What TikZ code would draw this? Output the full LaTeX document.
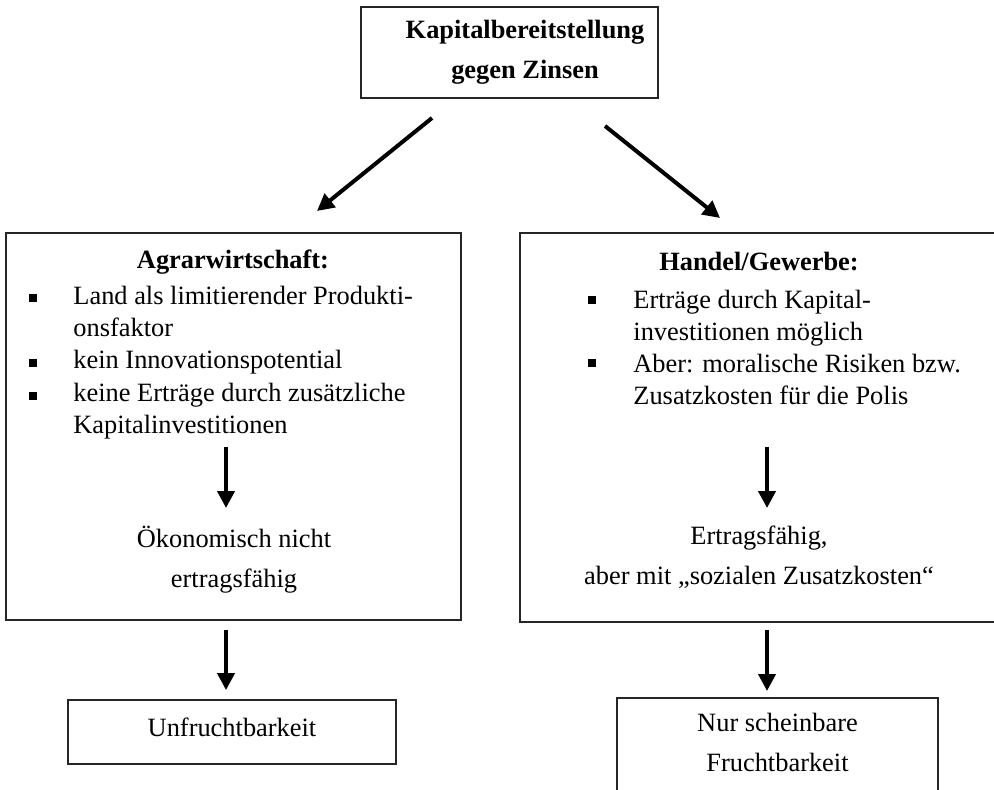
\documentclass[tikz,border=0pt]{standalone}
\usepackage{fontspec}
\setmainfont{Liberation Serif}
\usetikzlibrary{arrows.meta}
\tikzset{
  box/.style={draw=black!85, line width=0.9pt, inner sep=0pt},
  txt/.style={align=center, inner sep=0pt, font=\fontsize{13.2}{20}\selectfont},
  ttl/.style={inner sep=0pt, font=\fontsize{13.2}{20}\selectfont\bfseries},
  lst/.style={align=left, anchor=west, inner sep=0pt, font=\fontsize{13.2}{16.1}\selectfont},
  blt/.style={fill=black, inner sep=0pt, minimum size=3.8pt},
  arr/.style={line width=2pt, -{Triangle[length=8.5pt,width=8.5pt]}}
}
% box node: name, x, y, width, height (in px)
\newcommand{\boxnode}[5]{\node[box, minimum width=#4*0.5pt, minimum height=#5*0.5pt] (#1) at (#2,#3) {};}

\begin{document}
\begin{tikzpicture}[x=0.5pt, y=-0.5pt]
        \path[use as bounding box, clip] (0,0) rectangle (994,790);
        % top
        \boxnode{kap}{509.5}{52.5}{297}{91}
        \node[txt, font=\fontsize{13.2}{20}\selectfont\bfseries] (kapt) at (525,52) {Kapitalbereitstellung\\gegen Zinsen};
        % left column
        \boxnode{agrar}{233.5}{426.5}{455}{387}
        \node[ttl] (agrart) at (233,262) {Agrarwirtschaft:};
        \node[lst] (agrarl) at (73,362.5) {Land als limitierender Produkti-\\onsfaktor\\kein Innovationspotential\\keine Erträge durch zusätzliche\\Kapitalinvestitionen};
        \foreach \y [count=\i] in {298,363,396}
            \node[blt] (ba\i) at (33,\y) {};
        \node[txt] (agrarr) at (234,560) {Ökonomisch nicht\\ertragsfähig};
        \boxnode{unfr}{232}{732}{328}{64}
        \node[txt] (unfrt) at (232,727) {Unfruchtbarkeit};
        % right column
        \boxnode{hand}{762}{427.5}{484}{389}
        \node[ttl] (handt) at (759,262) {Handel/Gewerbe:};
        \node[lst] (handl) at (633,347.5) {Erträge durch Kapital-\\investitionen möglich\\Aber: moralische Risiken bzw.\\Zusatzkosten für die Polis};
        \foreach \y [count=\i] in {300,363}
            \node[blt] (bh\i) at (592,\y) {};
        \node[txt] (handr) at (759,557.5) {Ertragsfähig,\\aber mit „sozialen Zusatzkosten“};
        \node[box, anchor=north, minimum width=160.5pt, minimum height=60pt] (nur) at (777.5,697) {};
        \node[txt] (nurt) at (777.5,742.5) {Nur scheinbare\\Fruchtbarkeit};
        % arrows
        \coordinate (kL) at (432,118);
        \coordinate (aT) at (317,211);
        \coordinate (kR) at (605,126);
        \coordinate (hT) at (720,218);
        \draw[arr] (kL) -- (aT);
        \draw[arr] (kR) -- (hT);
        \coordinate (ax) at (226,0);
        \coordinate (hx) at (767,0);
        \draw[arr] (ax |- 0,447) -- (ax |- 0,508);
        \draw[arr] (hx |- 0,447) -- (hx |- 0,508);
        \draw[arr, shorten <=4.5pt, shorten >=4.5pt] (agrar.south -| ax) -- (unfr.north -| ax);
        \draw[arr, shorten <=3.5pt, shorten >=3pt] (hand.south -| hx) -- (nur.north -| hx);
    \end{tikzpicture}
\end{document}
